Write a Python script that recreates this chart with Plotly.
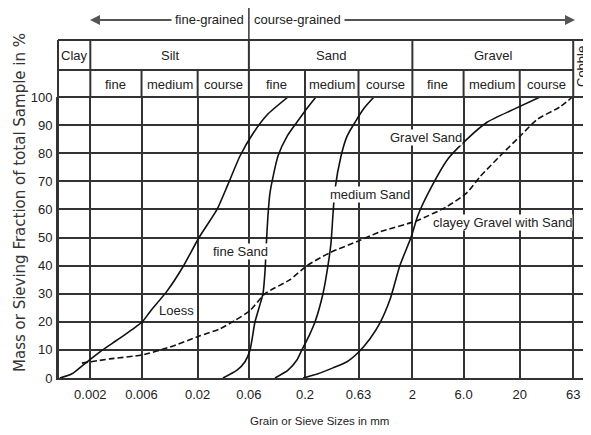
import math
import plotly.graph_objects as go

# ---- data (grain size in mm, passing in %) ----
loess_x = [0.00104, 0.00135, 0.00171, 0.00246, 0.00325, 0.0050, 0.0061, 0.0072, 0.0104,
           0.0146, 0.0206, 0.0303, 0.0384, 0.0496, 0.0655, 0.0885, 0.139]
loess_y = [0, 1.5, 4.6, 9.3, 12.5, 17.5, 20, 23.6, 31, 39.6, 50, 60, 69, 79, 87, 93.6, 100]

fine_sand_x = [0.0344, 0.0465, 0.0552, 0.0615, 0.0684, 0.0746, 0.0812, 0.0848, 0.0876,
               0.0904, 0.0944, 0.112, 0.136, 0.168, 0.209, 0.253]
fine_sand_y = [0, 2.8, 5.8, 10, 20, 25, 30, 38, 49, 58, 66, 79, 86, 91, 96, 100]

medium_sand_x = [0.105, 0.139, 0.168, 0.187, 0.218, 0.248, 0.294, 0.321, 0.349, 0.364,
                 0.380, 0.433, 0.492, 0.584, 0.709, 0.878]
medium_sand_y = [0, 2.8, 6.4, 10, 15, 20, 30, 38, 48, 58, 67, 79, 86, 91, 96, 100]

gravel_sand_x = [0.192, 0.264, 0.364, 0.492, 0.623, 0.806, 0.999, 1.24, 1.53, 1.94, 2.26,
                 2.92, 4.30, 6.46, 9.92, 17.3, 30.9]
gravel_sand_y = [0, 1.5, 3.6, 5.8, 9, 14, 19.6, 28, 40, 50, 58, 67, 78, 85, 91, 95.5, 100]

clayey_x = [0.00167, 0.00305, 0.00606, 0.0110, 0.0210, 0.0323, 0.0445, 0.0615, 0.0848,
            0.145, 0.209, 0.342, 0.651, 0.999, 2.21, 4.20, 6.46, 8.53, 13.1, 20.1, 29.0,
            47.5, 62.0]
clayey_y = [5.3, 6.8, 8.2, 11, 15, 17.5, 20.5, 24, 30, 35, 40, 44.6, 49, 52, 56, 61, 66,
            71.6, 79, 86, 92, 96.5, 100]

tick_vals = [0.002, 0.006, 0.02, 0.06, 0.2, 0.63, 2, 6.0, 20, 63]
tick_text = ["0.002", "0.006", "0.02", "0.06", "0.2", "0.63", "2", "6.0", "20", "63"]
y_ticks = [0, 10, 20, 30, 40, 50, 60, 70, 80, 90, 100]

main_groups = ["Clay", "Silt", "Sand", "Gravel"]
main_bounds = [0.001, 0.002, 0.06, 2, 63]
sub_groups = ["fine", "medium", "course", "fine", "medium", "course", "fine", "medium", "course"]
sub_bounds = [0.002, 0.006, 0.02, 0.06, 0.2, 0.63, 2, 6.0, 20, 63]

curve_labels = ["Loess", "fine Sand", "medium Sand", "Gravel Sand", "clayey Gravel with Sand"]
label_x = [0.0127, 0.0496, 0.806, 2.68, 13.7]
label_y = [24.2, 44.9, 65.2, 85.5, 55.2]

# ---- layout constants ----
XR = [-3.0, 1.965]
FONT = "Liberation Sans, Arial, sans-serif"
GRID = "#333333"
OFF = 8                      # page body margin offset
PL, PR, PT, PB = 58, 591, 97, 378   # plot area in page pixels
W, H = 591 - OFF, 435 - OFF
ML, MR, MT, MB = PL - OFF, W - (PR - OFF), PT - OFF, H - (PB - OFF)


def px(v):
    return (math.log10(v) - XR[0]) / (XR[1] - XR[0])


def pxp(p):
    return (p - PL) / (PR - PL)


def pyp(p):
    return (PB - p) / (PB - PT)


fig = go.Figure()

series = [
    (loess_x, loess_y, "solid"),
    (fine_sand_x, fine_sand_y, "solid"),
    (medium_sand_x, medium_sand_y, "solid"),
    (gravel_sand_x, gravel_sand_y, "solid"),
    (clayey_x, clayey_y, "6px,3px"),
]
for xs, ys, dash in series:
    fig.add_trace(go.Scatter(x=xs, y=ys, mode="lines",
                             line=dict(color="#111111", width=1.6, dash=dash,
                                       shape="spline", smoothing=0.6),
                             showlegend=False, hoverinfo="skip"))

shapes = []
top = pyp(40)
mid = pyp(70)
line = dict(color=GRID, width=2)
shapes.append(dict(type="line", xref="paper", yref="paper", x0=0, x1=1, y0=top, y1=top, line=line))
shapes.append(dict(type="line", xref="paper", yref="paper", x0=0, x1=px(63), y0=mid, y1=mid, line=line))
shapes.append(dict(type="line", xref="paper", yref="paper", x0=0, x1=1, y0=1, y1=1, line=line))
shapes.append(dict(type="line", xref="paper", yref="paper", x0=0, x1=0, y0=0, y1=top, line=line))
for b in sub_bounds:
    shapes.append(dict(type="line", xref="paper", yref="paper", x0=px(b), x1=px(b), y0=1, y1=mid, line=line))
for b in main_bounds[1:]:
    shapes.append(dict(type="line", xref="paper", yref="paper", x0=px(b), x1=px(b), y0=mid, y1=top, line=line))
shapes.append(dict(type="line", xref="paper", yref="paper", x0=px(0.06), x1=px(0.06),
                   y0=top, y1=pyp(5), line=dict(color=GRID, width=1.5)))

ann = []
tfont = dict(family=FONT, size=13, color="#222222")


def note(x, y, text, **kw):
    d = dict(xref="paper", yref="paper", x=x, y=y, text=text, showarrow=False,
             xanchor="center", yanchor="middle", font=tfont)
    d.update(kw)
    ann.append(d)


r1 = pyp(55)
r2 = pyp(84)
for i, g in enumerate(main_groups):
    note((px(main_bounds[i]) + px(main_bounds[i + 1])) / 2, r1, g)
for i, g in enumerate(sub_groups):
    note((px(sub_bounds[i]) + px(sub_bounds[i + 1])) / 2, r2, g)
note(pxp(582), pyp(67), "Cobble", textangle=-90)

note(px(0.06) - 0.005, pyp(19), "fine-grained", xanchor="right")
note(px(0.06) + 0.005, pyp(19), "course-grained", xanchor="left")
ann.append(dict(xref="paper", yref="paper", x=pxp(90), y=pyp(20), text="",
                showarrow=True, ax=83, ay=0, arrowhead=2, arrowsize=1, arrowwidth=2,
                arrowcolor="#555555"))
ann.append(dict(xref="paper", yref="paper", x=pxp(575), y=pyp(20), text="",
                showarrow=True, ax=-232, ay=0, arrowhead=2, arrowsize=1, arrowwidth=2,
                arrowcolor="#555555"))

for t, lx, ly in zip(curve_labels, label_x, label_y):
    ann.append(dict(x=math.log10(lx), y=ly, xref="x", yref="y", text=t, showarrow=False,
                    xanchor="center", yanchor="middle",
                    font=dict(family=FONT, size=13, color="#222222"), bgcolor="white", borderpad=0))

note(pxp(319), pyp(421), "Grain or Sieve Sizes in mm", font=dict(family=FONT, size=11.5, color="#222222"))
note(pxp(20), pyp(203), "Mass or Sieving Fraction of total Sample in %", textangle=-90,
     font=dict(family="DejaVu Sans", size=15, color="#333333"))

fig.update_layout(
    width=W, height=H, margin=dict(l=ML, r=MR, t=MT, b=MB, pad=0),
    paper_bgcolor="white", plot_bgcolor="white",
    shapes=shapes, annotations=ann,
    xaxis=dict(type="log", range=XR, tickvals=tick_vals, ticktext=tick_text,
               showgrid=True, gridcolor=GRID, gridwidth=2, showline=True, linecolor=GRID,
               linewidth=2, zeroline=False, ticks="", ticklabelstandoff=3,
               tickfont=dict(family=FONT, size=13, color="#222222")),
    yaxis=dict(range=[0, 100], tickvals=y_ticks, showgrid=True, gridcolor=GRID, gridwidth=2,
               showline=True, linecolor=GRID, linewidth=2, zeroline=False, ticks="",
               ticklabelstandoff=1, tickfont=dict(family=FONT, size=13, color="#222222")),
)

fig.write_html("out.html")
